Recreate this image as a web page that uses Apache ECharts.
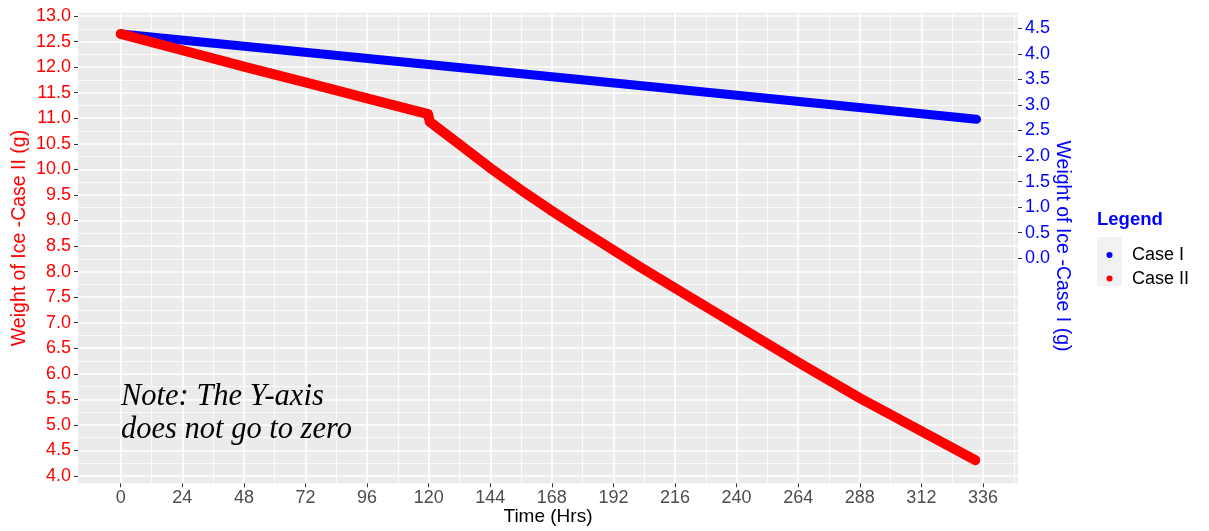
<!DOCTYPE html>
<html>
<head>
<meta charset="utf-8">
<title>Weight of Ice over Time</title>
<script src="https://cdn.jsdelivr.net/npm/echarts@6/dist/echarts.min.js"></script>
<style>
  html, body { margin: 0; padding: 0; background: #ffffff; }
  #chart { width: 1209px; height: 531px; }
</style>
</head>
<body>
<div id="chart"></div>
<script>
// ---- data ----
const caseIHours = [0, 168, 333.5];
const caseIWeight = [4.39, 3.55, 2.72];           // Case I, right axis (g)

const caseIIHours = [0, 24, 48, 72, 96, 119.8, 120.4, 132.2, 143.9, 155.6, 167.3, 179, 202.4, 225.8, 238.8, 264.8, 288.2, 333];
const caseIIWeight = [12.65, 12.33, 12.01, 11.70, 11.39, 11.08, 10.93, 10.48, 10.03, 9.61, 9.21, 8.83, 8.09, 7.38, 6.99, 6.20, 5.52, 4.31]; // Case II, left axis (g)

// ---- tick labels ----
const timeTicks = [0, 24, 48, 72, 96, 120, 144, 168, 192, 216, 240, 264, 288, 312, 336];
const timeMinor = [12, 36, 60, 84, 108, 132, 156, 180, 204, 228, 252, 276, 300, 324, 348];
const leftTicks = [4.0, 4.5, 5.0, 5.5, 6.0, 6.5, 7.0, 7.5, 8.0, 8.5, 9.0, 9.5, 10.0, 10.5, 11.0, 11.5, 12.0, 12.5, 13.0];
const leftMinor = [4.25, 4.75, 5.25, 5.75, 6.25, 6.75, 7.25, 7.75, 8.25, 8.75, 9.25, 9.75, 10.25, 10.75, 11.25, 11.75, 12.25, 12.75];
const rightTicks = [0.0, 0.5, 1.0, 1.5, 2.0, 2.5, 3.0, 3.5, 4.0, 4.5];

// secondary axis is the primary one shifted down by a constant
const AXIS_SHIFT = 8.26;
const X_MIN = -16.65, X_MAX = 349.65;
const Y_MIN = 3.857, Y_MAX = 13.065;

const SANS = "'Liberation Sans', Arial, sans-serif";
const SERIF = "'Liberation Serif', 'Times New Roman', serif";

const chart = echarts.init(document.getElementById('chart'), null, { renderer: 'canvas' });

const pairs = (xs, ys) => xs.map((x, i) => [x, ys[i]]);
const tickStyle = { color: '#333333', width: 1 };

const option = {
  animation: false,
  backgroundColor: '#ffffff',
  grid: {
    left: 78, right: 191, top: 12.7, bottom: 47.7,
    show: true, backgroundColor: '#EBEBEB', borderWidth: 0
  },
  xAxis: [
    {
      type: 'value', min: X_MIN, max: X_MAX, position: 'bottom',
      axisLine: { show: false, onZero: false },
      axisTick: { show: true, customValues: timeTicks, length: 4, lineStyle: tickStyle },
      axisLabel: { customValues: timeTicks, color: '#4D4D4D', fontSize: 18, fontFamily: SANS, margin: 6,
                   formatter: v => String(v) },
      splitLine: { show: true, lineStyle: { color: '#ffffff', width: 1.6 } }
    },
    {
      type: 'value', min: X_MIN, max: X_MAX, position: 'bottom',
      axisLine: { show: false, onZero: false },
      axisTick: { show: false, customValues: timeMinor },
      axisLabel: { show: false, customValues: timeMinor },
      splitLine: { show: true, lineStyle: { color: '#ffffff', width: 0.8 } }
    }
  ],
  yAxis: [
    {
      type: 'value', min: Y_MIN, max: Y_MAX, position: 'left',
      axisLine: { show: false, onZero: false },
      axisTick: { show: true, customValues: leftTicks, length: 4, lineStyle: tickStyle },
      axisLabel: { customValues: leftTicks, color: '#FF0000', fontSize: 18, fontFamily: SANS, margin: 7,
                   formatter: v => v.toFixed(1) },
      splitLine: { show: true, lineStyle: { color: '#ffffff', width: 1.6 } }
    },
    {
      type: 'value', min: Y_MIN, max: Y_MAX, position: 'left',
      axisLine: { show: false, onZero: false },
      axisTick: { show: false, customValues: leftMinor },
      axisLabel: { show: false, customValues: leftMinor },
      splitLine: { show: true, lineStyle: { color: '#ffffff', width: 0.8 } }
    },
    {
      type: 'value', min: Y_MIN - AXIS_SHIFT, max: Y_MAX - AXIS_SHIFT, position: 'right',
      axisLine: { show: false, onZero: false },
      axisTick: { show: true, customValues: rightTicks, length: 4, lineStyle: tickStyle },
      axisLabel: { customValues: rightTicks, color: '#0000FF', fontSize: 18, fontFamily: SANS, margin: 7,
                   formatter: v => v.toFixed(1) },
      splitLine: { show: false }
    }
  ],
  legend: {
    orient: 'vertical',
    left: 1101.5, top: 240,
    icon: 'circle',
    itemWidth: 15, itemHeight: 6, itemGap: 3.6,
    data: ['Case I', 'Case II'],
    textStyle: { color: '#000000', fontSize: 18, fontFamily: SANS, lineHeight: 20, padding: [0, 0, 0, 10] }
  },
  series: [
    {
      name: 'Case I', type: 'line', xAxisIndex: 0, yAxisIndex: 2,
      data: pairs(caseIHours, caseIWeight),
      symbol: 'none', color: '#0000FF',
      lineStyle: { color: '#0000FF', width: 9, cap: 'round', join: 'round' },
      z: 3
    },
    {
      name: 'Case II', type: 'line', xAxisIndex: 0, yAxisIndex: 0,
      data: pairs(caseIIHours, caseIIWeight),
      symbol: 'none', color: '#FF0000',
      lineStyle: { color: '#FF0000', width: 10, cap: 'round', join: 'round' },
      z: 4
    }
  ],
  graphic: [
    { type: 'text', x: 20, y: 238, rotation: Math.PI / 2, z: 100,
      style: { text: 'Weight of Ice -Case II (g)', fill: '#FF0000', font: '19.5px ' + SANS, align: 'center', verticalAlign: 'middle' } },
    { type: 'text', x: 1062, y: 246, rotation: -Math.PI / 2, z: 100,
      style: { text: 'Weight of Ice -Case I (g)', fill: '#0000FF', font: '19.5px ' + SANS, align: 'center', verticalAlign: 'middle' } },
    { type: 'text', x: 548, y: 517, z: 100,
      style: { text: 'Time (Hrs)', fill: '#000000', font: '19px ' + SANS, align: 'center', verticalAlign: 'middle' } },
    { type: 'text', x: 121, y: 396.5, z: 100,
      style: { text: 'Note: The Y-axis', fill: '#000000', font: 'italic 30.5px ' + SERIF, align: 'left', verticalAlign: 'middle' } },
    { type: 'text', x: 121, y: 430, z: 100,
      style: { text: 'does not go to zero', fill: '#000000', font: 'italic 30.5px ' + SERIF, align: 'left', verticalAlign: 'middle' } },
    { type: 'text', x: 1097, y: 220, z: 100,
      style: { text: 'Legend', fill: '#0000FF', font: 'bold 18.5px ' + SANS, align: 'left', verticalAlign: 'middle' } },
    { type: 'rect', shape: { x: 1097, y: 237, width: 25, height: 49 }, style: { fill: '#F2F2F2' }, z: -1 }
  ]
};

chart.setOption(option);
</script>
</body>
</html>
